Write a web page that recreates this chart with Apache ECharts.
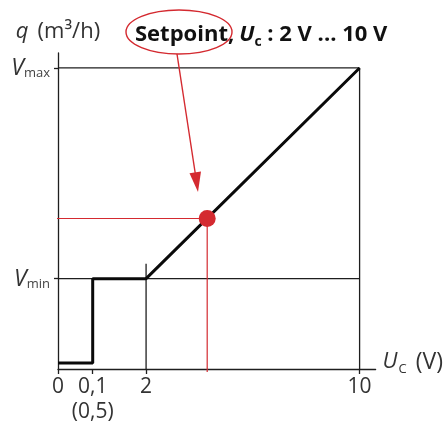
<!DOCTYPE html>
<html>
<head>
<meta charset="utf-8">
<script src="https://cdn.jsdelivr.net/npm/echarts@6/dist/echarts.min.js"></script>
<style>
  html, body { margin: 0; padding: 0; background: #fff; }
  #main { width: 446px; height: 425px; }
</style>
</head>
<body>
<div id="main"></div>
<script>
// x axis is broken: 0 and 0,1 V are spread apart, so positions are display positions
const xTickPos = [-1.3, 0, 2, 10];
const xTickLabels = ['0', '0,1\n(0,5)', '2', '10'];
const yTickPos = [3, 10];
const yTickSubs = ['min', 'max'];

// flow curve q(Uc)
const curve = [[-1.3, 0.2], [0, 0.2], [0, 3], [2, 3], [10, 10]];
const vminLine = [[-1.3, 3], [10, 3]];
const vmaxLine = [[-1.3, 10], [10, 10]];
const u2Line = [[2, 0], [2, 3.5]];
const u10Line = [[10, 0], [10, 10]];
const setpoint = [4.29, 5];

const red = '#d42a30';
const ink = '#1e1e1e';
const font = '"Open Sans", "Noto Sans", sans-serif';

const chart = echarts.init(document.getElementById('main'));

function thin(data, color, width) {
  return {
    type: 'line', data: data, symbol: 'none', silent: true, clip: false,
    lineStyle: { color: color || ink, width: width || 1.3 }
  };
}

const option = {
  animation: false,
  title: {
    left: 130, top: 15,
    text: '{b|Setpoint,} {u|U}{c|c}{b| : 2 V ... 10 V}',
    textStyle: {
      rich: {
        b: { fontFamily: font, fontWeight: 'bold', fontSize: 22, color: '#111' },
        u: { fontFamily: font, fontWeight: 'bold', fontStyle: 'italic', fontSize: 22, color: '#111' },
        c: { fontFamily: font, fontWeight: 'bold', fontSize: 14, color: '#111', padding: [15, 0, 0, 0] }
      }
    }
  },
  grid: { left: 58, right: 70, top: 52.9, bottom: 55 },
  xAxis: {
    type: 'value', min: -1.3, max: 10.6,
    name: '{u|U}{c|C}{t|(V)}', nameLocation: 'end', nameGap: 7,
    nameTextStyle: {
      padding: [0, 0, 14, 0],
      rich: {
        u: { fontFamily: font, fontStyle: 'italic', fontSize: 22, color: '#333' },
        c: { fontFamily: font, fontSize: 13, color: '#333', padding: [14, 0, 0, 1] },
        t: { fontFamily: font, fontSize: 23, color: '#333', padding: [0, 0, 0, 9] }
      }
    },
    axisLine: { onZero: false, lineStyle: { color: ink, width: 1.3 } },
    axisTick: { show: true, customValues: xTickPos, length: 5, lineStyle: { color: ink, width: 1.3 } },
    axisLabel: {
      customValues: xTickPos, margin: 6,
      fontFamily: font, fontSize: 21, color: '#333', lineHeight: 25,
      formatter: function (v) {
        const i = xTickPos.indexOf(v);
        return i >= 0 ? xTickLabels[i] : '';
      }
    },
    splitLine: { show: false }
  },
  yAxis: {
    type: 'value', min: 0, max: 10.5,
    name: '{q|q}{t|(m³/h)}', nameLocation: 'end', nameGap: 10,
    nameTextStyle: {
      rich: {
        q: { fontFamily: font, fontStyle: 'italic', fontSize: 22, color: '#333' },
        t: { fontFamily: font, fontSize: 22, color: '#333', padding: [0, 0, 0, 9] }
      }
    },
    axisLine: { onZero: false, lineStyle: { color: ink, width: 1.3 } },
    axisTick: { show: true, customValues: yTickPos, length: 4, lineStyle: { color: ink, width: 1.3 } },
    axisLabel: {
      customValues: yTickPos, margin: 8,
      formatter: function (v) {
        const i = yTickPos.indexOf(v);
        return i >= 0 ? '{v|V}{s|' + yTickSubs[i] + '}' : '';
      },
      rich: {
        v: { fontFamily: font, fontStyle: 'italic', fontSize: 23, color: '#333', lineHeight: 22, verticalAlign: 'top' },
        s: { fontFamily: font, fontSize: 13, color: '#444', lineHeight: 13, padding: [16, 0, 5, 0] }
      }
    },
    splitLine: { show: false }
  },
  series: [
    thin(vminLine),
    thin(vmaxLine),
    thin(u2Line),
    thin(u10Line),
    thin([[-1.42, setpoint[1]], setpoint], red, 1.2),
    thin([setpoint, [setpoint[0], -0.1]], red, 1.2),
    {
      type: 'line', data: curve, symbol: 'none', silent: true, clip: false,
      lineStyle: { color: '#0a0a0a', width: 3 }, z: 3
    },
    {
      type: 'scatter', data: [setpoint], symbolSize: 17, silent: true, z: 4,
      itemStyle: { color: red, opacity: 1 }
    }
  ],
  graphic: [
    {
      type: 'ellipse', shape: { cx: 179, cy: 32, rx: 53, ry: 22 },
      style: { fill: null, stroke: red, lineWidth: 1.4 }, z: 10
    },
    {
      type: 'line', shape: { x1: 177, y1: 54, x2: 195.5, y2: 175 },
      style: { stroke: red, lineWidth: 1.4 }, z: 10
    },
    {
      type: 'polygon', shape: { points: [[198, 192], [201, 171.5], [189.5, 173.3]] },
      style: { fill: red }, z: 10
    }
  ]
};

chart.setOption(option);
</script>
</body>
</html>
